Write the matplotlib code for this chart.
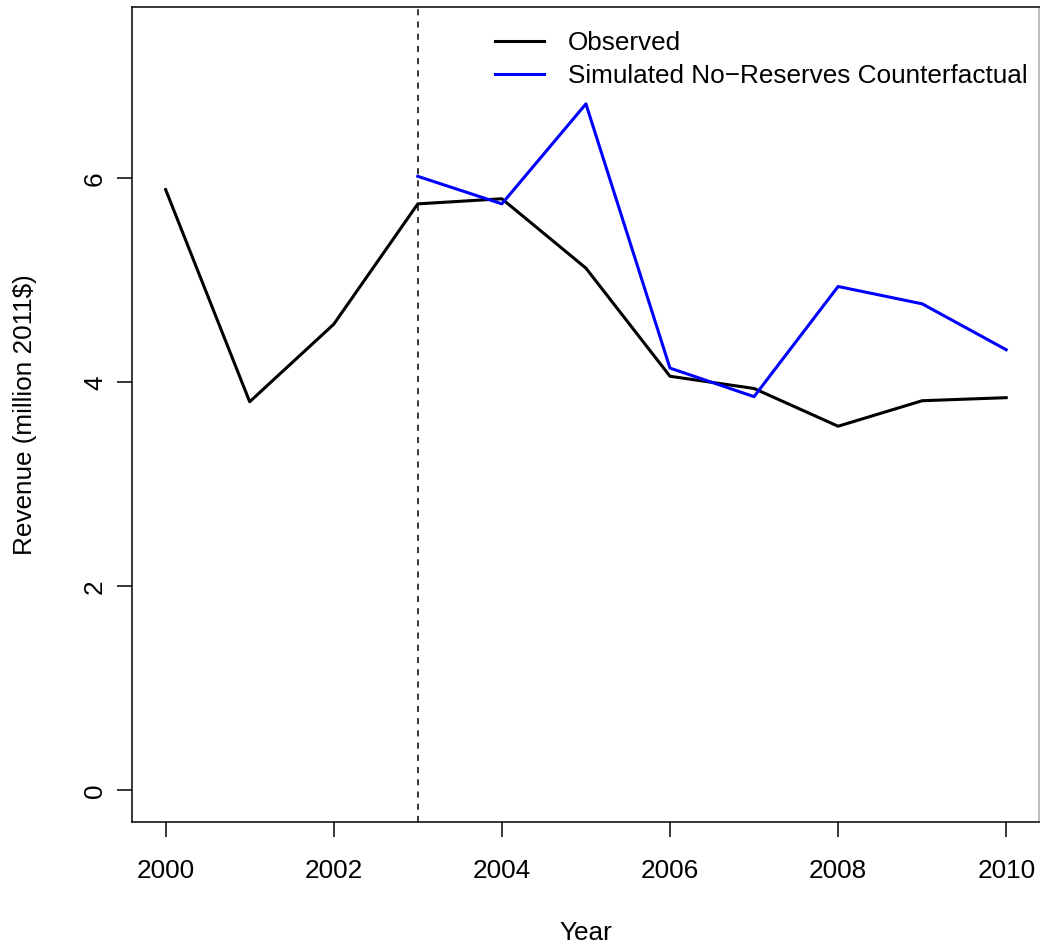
import matplotlib
matplotlib.use("Agg")
import matplotlib.pyplot as plt

plt.rcParams['font.family'] = ['Liberation Sans', 'DejaVu Sans']

years = [2000, 2001, 2002, 2003, 2004, 2005, 2006, 2007, 2008, 2009, 2010]
observed = [5.89, 3.81, 4.57, 5.75, 5.80, 5.12, 4.06, 3.94, 3.57, 3.82, 3.85]

sim_years = [2003, 2004, 2005, 2006, 2007, 2008, 2009, 2010]
simulated = [6.02, 5.75, 6.73, 4.14, 3.86, 4.94, 4.77, 4.32]

reserve_year = 2003
xticks = [2000, 2002, 2004, 2006, 2008, 2010]
yticks = [0, 2, 4, 6]
fs = 18.8

W, H = 1040, 948
fig = plt.figure(figsize=(W / 100, H / 100), dpi=100)
ax = fig.add_axes([132 / W, (H - 822) / H, (1039 - 132) / W, (822 - 7) / H])

ax.plot(years, observed, color='black', lw=2.2, label='Observed')
ax.plot(sim_years, simulated, color='blue', lw=2.2,
        label='Simulated No\u2212Reserves Counterfactual')
ax.axvline(reserve_year, color='black', lw=1.1, ls=(0, (4, 4)))

ax.set_xlim(1999.6, 2010.39)
ax.set_ylim(-0.31, 7.68)
ax.set_xticks(xticks)
ax.set_yticks(yticks)
ax.set_yticklabels([str(v) for v in yticks], rotation=90, va='center')
ax.tick_params(axis='both', length=11, width=1.1, labelsize=fs)
ax.tick_params(axis='x', pad=16)
ax.tick_params(axis='y', pad=7)
for s in ax.spines.values():
    s.set_linewidth(1.1)
ax.spines['right'].set_color('#aaaaaa')

ax.set_xlabel('Year', fontsize=fs, labelpad=27)
ax.set_ylabel('Revenue (million 2011$)', fontsize=fs, labelpad=33)

ax.legend(loc='upper left', bbox_to_anchor=(0.4, 0.97), frameon=False,
          fontsize=fs, handlelength=1.9, handletextpad=0.9,
          labelspacing=0.33, borderpad=0, borderaxespad=0)

fig.savefig('out.png', dpi=100)
